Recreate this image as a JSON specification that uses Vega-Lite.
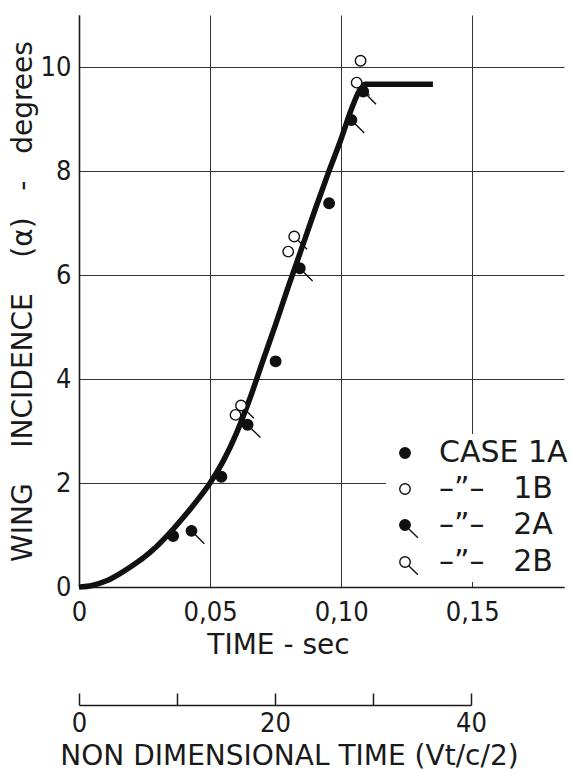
{
  "$schema": "https://vega.github.io/schema/vega-lite/v6.json",
  "background": "white",
  "padding": {"left": 9, "top": 15, "right": 0, "bottom": 0},
  "config": {
    "view": {"stroke": null},
    "font": "DejaVu Sans",
    "axis": {
      "labelFont": "DejaVu Sans Condensed",
      "titleFont": "DejaVu Sans",
      "labelColor": "#1a1a1a",
      "titleColor": "#1a1a1a",
      "titleFontWeight": "normal",
      "labelFontSize": 27,
      "titleFontSize": 28,
      "domainColor": "#1a1a1a",
      "domainWidth": 1.6,
      "tickColor": "#1a1a1a",
      "gridColor": "#333333",
      "gridWidth": 1,
      "gridOpacity": 1
    },
    "legend": {
      "labelFont": "DejaVu Sans"
    }
  },
  "datasets": {
    "curve": [
      {"t": 0, "a": 0},
      {"t": 0.005, "a": 0.03},
      {"t": 0.01, "a": 0.11},
      {"t": 0.015, "a": 0.24},
      {"t": 0.02, "a": 0.4},
      {"t": 0.025, "a": 0.58},
      {"t": 0.03, "a": 0.8},
      {"t": 0.035, "a": 1.06},
      {"t": 0.04, "a": 1.35},
      {"t": 0.045, "a": 1.66},
      {"t": 0.05, "a": 2.0},
      {"t": 0.055, "a": 2.42},
      {"t": 0.06, "a": 2.95},
      {"t": 0.065, "a": 3.6},
      {"t": 0.07, "a": 4.33},
      {"t": 0.075, "a": 5.05},
      {"t": 0.08, "a": 5.8},
      {"t": 0.085, "a": 6.52},
      {"t": 0.09, "a": 7.25},
      {"t": 0.095, "a": 7.95},
      {"t": 0.1, "a": 8.62},
      {"t": 0.104, "a": 9.2},
      {"t": 0.107, "a": 9.55},
      {"t": 0.109, "a": 9.67},
      {"t": 0.135, "a": 9.67}
    ],
    "pts": [
      {"t": 0.0359, "a": 0.98, "c": "1A"},
      {"t": 0.0543, "a": 2.12, "c": "1A"},
      {"t": 0.075, "a": 4.34, "c": "1A"},
      {"t": 0.0954, "a": 7.38, "c": "1A"},
      {"t": 0.0597, "a": 3.31, "c": "1B"},
      {"t": 0.0798, "a": 6.45, "c": "1B"},
      {"t": 0.1074, "a": 10.12, "c": "1B"},
      {"t": 0.0429, "a": 1.08, "c": "2A"},
      {"t": 0.0643, "a": 3.12, "c": "2A"},
      {"t": 0.0842, "a": 6.13, "c": "2A"},
      {"t": 0.1039, "a": 8.98, "c": "2A"},
      {"t": 0.1084, "a": 9.53, "c": "2A"},
      {"t": 0.0618, "a": 3.49, "c": "2B"},
      {"t": 0.0821, "a": 6.74, "c": "2B"},
      {"t": 0.1059, "a": 9.7, "c": "2B"}
    ],
    "nd": [
      {"nd": 0}, {"nd": 10}, {"nd": 20}, {"nd": 30}, {"nd": 40}
    ]
  },
  "spacing": 33,
  "vconcat": [
    {
      "width": 485,
      "height": 572,
      "layer": [
        {
          "data": {"name": "curve"},
          "mark": {"type": "line", "stroke": "#111111", "strokeWidth": 5.5, "interpolate": "monotone", "strokeCap": "butt"},
          "encoding": {
            "x": {
              "field": "t", "type": "quantitative",
              "scale": {"domain": [0, 0.185], "nice": false, "zero": false},
              "axis": {
                "values": [0, 0.05, 0.1, 0.15],
                "ticks": false,
                "grid": true,
                "labelFlush": false,
                "labelPadding": 12,
                "labelExpr": "datum.value == 0 ? '0' : replace(format(datum.value, '.2f'), '.', ',')",
                "title": "TIME - sec",
                "titleX": 199,
                "titlePadding": 6
              }
            },
            "y": {
              "field": "a", "type": "quantitative",
              "scale": {"domain": [0, 11], "nice": false},
              "axis": {
                "values": [0, 2, 4, 6, 8, 10],
                "ticks": false,
                "grid": true,
                "labelPadding": 8,
                "title": "WING\u00a0\u00a0\u00a0\u00a0INCIDENCE\u00a0\u00a0\u00a0\u00a0(α)\u00a0\u00a0\u00a0-\u00a0\u00a0\u00a0degrees",
                "titleFontSize": 28,
                "titlePadding": 3
              }
            }
          }
        },
        {
          "data": {"name": "pts"},
          "mark": {"type": "point", "strokeWidth": 1.4, "opacity": 1, "size": 110},
          "encoding": {
            "x": {"field": "t", "type": "quantitative"},
            "y": {"field": "a", "type": "quantitative"},
            "shape": {
              "field": "c", "type": "nominal",
              "scale": {
                "domain": ["1A", "1B", "2A", "2B"],
                "range": ["circle", "circle", "M-1,0A1,1,0,1,1,1,0A1,1,0,1,1,-1,0Z M0.7,0.7L2.45,2.45", "M-1,0A1,1,0,1,1,1,0A1,1,0,1,1,-1,0Z M0.7,0.7L2.45,2.45"]
              },
              "legend": {
                "title": null,
                "orient": "none",
                "legendX": 307,
                "legendY": 419,
                "fillColor": "white",
                "padding": 4,
                "symbolSize": 110,
                "symbolStrokeWidth": 1.4,
                "labelFontSize": 30,
                "labelColor": "#1a1a1a",
                "labelLimit": 0,
                "labelOffset": 19,
                "rowPadding": 6,
                "labelExpr": "datum.value == '1A' ? 'CASE\u00a01A' : '\u00a0\u00a0–”–\u00a0\u00a0\u00a0' + datum.value"
              }
            },
            "fill": {
              "field": "c", "type": "nominal",
              "scale": {"domain": ["1A", "1B", "2A", "2B"], "range": ["#111111", "white", "#111111", "white"]},
              "legend": {
                "title": null,
                "orient": "none",
                "legendX": 307,
                "legendY": 419,
                "fillColor": "white",
                "padding": 4,
                "symbolSize": 110,
                "symbolStrokeWidth": 1.4,
                "labelFontSize": 30,
                "labelColor": "#1a1a1a",
                "labelLimit": 0,
                "labelOffset": 19,
                "rowPadding": 6,
                "labelExpr": "datum.value == '1A' ? 'CASE\u00a01A' : '\u00a0\u00a0–”–\u00a0\u00a0\u00a0' + datum.value"
              }
            },
            "stroke": {
              "field": "c", "type": "nominal",
              "scale": {"domain": ["1A", "1B", "2A", "2B"], "range": ["#111111", "#111111", "#111111", "#111111"]},
              "legend": {
                "title": null,
                "orient": "none",
                "legendX": 307,
                "legendY": 419,
                "fillColor": "white",
                "padding": 4,
                "symbolSize": 110,
                "symbolStrokeWidth": 1.4,
                "labelFontSize": 30,
                "labelColor": "#1a1a1a",
                "labelLimit": 0,
                "labelOffset": 19,
                "rowPadding": 6,
                "labelExpr": "datum.value == '1A' ? 'CASE\u00a01A' : '\u00a0\u00a0–”–\u00a0\u00a0\u00a0' + datum.value"
              }
            }
          }
        }
      ]
    },
    {
      "width": 392,
      "height": 1,
      "data": {"name": "nd"},
      "mark": {"type": "point", "opacity": 0},
      "encoding": {
        "x": {
          "field": "nd", "type": "quantitative",
          "scale": {"domain": [0, 40], "nice": false},
          "axis": {
            "orient": "bottom",
            "values": [0, 10, 20, 30, 40],
            "grid": false,
            "tickSize": -12,
            "tickWidth": 1.5,
            "labelPadding": 17,
            "labelFlush": false,
            "labelExpr": "datum.value % 20 == 0 ? datum.label : ''",
            "title": "NON DIMENSIONAL TIME (Vt/c/2)",
            "titleX": 210,
            "titlePadding": 6
          }
        }
      }
    }
  ]
}
